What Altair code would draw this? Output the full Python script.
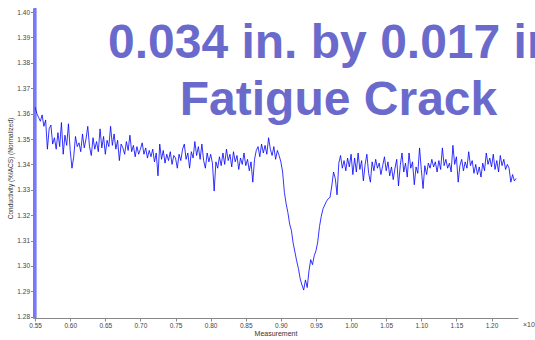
import altair as alt
import pandas as pd

# Scan positions: readings taken every 0.0025 (x10 units) starting at 0.55
X_START = 0.55
X_STEP = 0.0025

# Normalized conductivity readings, stretch by stretch along the scan
lead_in = [1.3625, 1.3600, 1.3585, 1.3570, 1.3595, 1.3550, 1.3575, 1.3460, 1.3540, 1.3555]
plateau_1 = [1.3480, 1.3505, 1.3460, 1.3525, 1.3470, 1.3565, 1.3440, 1.3515, 1.3475, 1.3560,
             1.3455, 1.3385, 1.3430, 1.3510, 1.3470, 1.3485, 1.3450, 1.3520, 1.3465, 1.3500]
plateau_2 = [1.3550, 1.3470, 1.3435, 1.3505, 1.3460, 1.3490, 1.3450, 1.3540, 1.3465, 1.3510,
             1.3440, 1.3495, 1.3470, 1.3550, 1.3475, 1.3520, 1.3460, 1.3495, 1.3415, 1.3480]
plateau_3 = [1.3465, 1.3440, 1.3490, 1.3455, 1.3515, 1.3450, 1.3475, 1.3430, 1.3470, 1.3440]
plateau_4 = [1.3460, 1.3485, 1.3440, 1.3465, 1.3425, 1.3455, 1.3430, 1.3460, 1.3410, 1.3445,
             1.3355, 1.3480, 1.3420, 1.3455, 1.3405, 1.3440, 1.3415, 1.3450, 1.3400, 1.3435]
plateau_5 = [1.3425, 1.3385, 1.3440, 1.3415, 1.3460, 1.3480, 1.3420, 1.3445, 1.3385, 1.3450,
             1.3425, 1.3490, 1.3435, 1.3470, 1.3420, 1.3480, 1.3415, 1.3385, 1.3445, 1.3410]
plateau_6 = [1.3440, 1.3405, 1.3295, 1.3410, 1.3385, 1.3430, 1.3395, 1.3445, 1.3400, 1.3460,
             1.3415, 1.3440, 1.3390, 1.3450, 1.3410, 1.3435, 1.3380, 1.3425, 1.3400, 1.3445,
             1.3395, 1.3420, 1.3375, 1.3410, 1.3330]
crack_edge = [1.3420, 1.3455, 1.3470, 1.3430, 1.3480, 1.3445, 1.3475, 1.3440, 1.3505, 1.3460,
              1.3435, 1.3470, 1.3420, 1.3455]
crack_dip = [1.3435, 1.3410, 1.3370, 1.3290, 1.3245, 1.3210, 1.3165, 1.3140, 1.3090, 1.3055,
             1.3020, 1.2990, 1.2950, 1.2925, 1.2905, 1.2945, 1.2915, 1.2980, 1.3025, 1.3005,
             1.3040, 1.3060, 1.3095, 1.3155, 1.3195, 1.3225, 1.3240, 1.3255, 1.3265, 1.3270,
             1.3315, 1.3370, 1.3345, 1.3280, 1.3405, 1.3435, 1.3385, 1.3415, 1.3375, 1.3425]
tail = [1.3390, 1.3440, 1.3360, 1.3425, 1.3370, 1.3445, 1.3380, 1.3415, 1.3335, 1.3400,
        1.3440, 1.3365, 1.3330, 1.3410, 1.3375, 1.3420, 1.3385, 1.3405, 1.3360, 1.3395,
        1.3430, 1.3375, 1.3410, 1.3355, 1.3390, 1.3340, 1.3385, 1.3420, 1.3315, 1.3395,
        1.3445, 1.3370, 1.3405, 1.3350, 1.3445, 1.3385, 1.3410, 1.3320, 1.3390, 1.3365,
        1.3465, 1.3380, 1.3305, 1.3395, 1.3360, 1.3405, 1.3385, 1.3420, 1.3390, 1.3410,
        1.3370, 1.3415, 1.3380, 1.3465, 1.3395, 1.3420, 1.3385, 1.3405, 1.3370, 1.3475,
        1.3400, 1.3430, 1.3330, 1.3395, 1.3420, 1.3375, 1.3410, 1.3385, 1.3450, 1.3395,
        1.3415, 1.3365, 1.3400, 1.3360, 1.3390, 1.3350, 1.3405, 1.3375, 1.3445, 1.3400,
        1.3425, 1.3390, 1.3440, 1.3380, 1.3415, 1.3370, 1.3435, 1.3395, 1.3420, 1.3380,
        1.3400, 1.3385, 1.3330, 1.3360, 1.3335, 1.3345]

readings = (lead_in + plateau_1 + plateau_2 + plateau_3 + plateau_4 + plateau_5
            + plateau_6 + crack_edge + crack_dip + tail)
positions = [round(X_START + X_STEP * i, 4) for i in range(len(readings))]

x_ticks = [0.55, 0.60, 0.65, 0.70, 0.75, 0.80, 0.85, 0.90, 0.95, 1.00, 1.05, 1.10, 1.15, 1.20]
y_ticks = [1.28, 1.29, 1.30, 1.31, 1.32, 1.33, 1.34, 1.35, 1.36, 1.37, 1.38, 1.39, 1.40]
cursor_at = [0.55]
title_lines = ["0.034 in. by 0.017 in.", "Fatigue Crack"]

W, H = 485, 310
FONT = "Liberation Sans"

df = pd.DataFrame({"Measurement": positions, "Conductivity": readings})

x_scale = alt.Scale(domain=[0.547, 1.2377], nice=False, zero=False)
y_scale = alt.Scale(domain=[1.2795, 1.4016], nice=False, zero=False)

x_axis = alt.Axis(values=x_ticks, format=".2f", grid=False, tickSize=3,
                  labelFontSize=6.5, labelFont=FONT, labelColor="#444", labelPadding=1,
                  labelOverlap=False, labelFlush=False,
                  domainColor="#888", tickColor="#888",
                  title="Measurement", titleFont=FONT, titleFontSize=7,
                  titleFontWeight="normal", titleColor="#333",
                  titleY=15, titleBaseline="middle")
y_axis = alt.Axis(values=y_ticks, format=".2f", grid=False, tickSize=2.5,
                  labelFontSize=6.5, labelFont=FONT, labelColor="#444", labelPadding=1,
                  labelOverlap=False, labelFlush=False,
                  domainColor="#888", tickColor="#888",
                  title="Conductivity (%IACS) (Normalized)", titleFont=FONT,
                  titleFontSize=6.5, titleFontWeight="normal", titleColor="#333",
                  titleX=-23, titleY=160, titleBaseline="middle", titleAngle=270)

# Scan trace
trace = alt.Chart(df).mark_line(color="#0000ff", strokeWidth=0.8, clip=True).encode(
    x=alt.X("Measurement:Q", scale=x_scale, axis=x_axis),
    y=alt.Y("Conductivity:Q", scale=y_scale, axis=y_axis),
)

# Start-of-scan cursor bar
cursor = alt.Chart(pd.DataFrame({"Measurement": cursor_at})).mark_rule(
    color="#7878ff", strokeWidth=3
).encode(
    x=alt.X("Measurement:Q", scale=x_scale, axis=x_axis),
    y=alt.value(0),
    y2=alt.value(H),
)

headline_1 = alt.Chart(pd.DataFrame({"t": [title_lines[0]]})).mark_text(
    font=FONT, fontSize=48, fontWeight="bold", color="#6a6acd",
    align="left", baseline="alphabetic"
).encode(text="t:N", x=alt.value(75), y=alt.value(50))

headline_2 = alt.Chart(pd.DataFrame({"t": [title_lines[1]]})).mark_text(
    font=FONT, fontSize=48, fontWeight="bold", color="#6a6acd",
    align="center", baseline="alphabetic"
).encode(text="t:N", x=alt.value(305.5), y=alt.value(107))

exponent = alt.Chart(pd.DataFrame({"t": ["\u00d710"]})).mark_text(
    font=FONT, fontSize=7, color="#444", align="left", baseline="middle"
).encode(text="t:N", x=alt.value(490), y=alt.value(317))

chart = alt.layer(cursor, trace, headline_1, headline_2, exponent).properties(
    width=W, height=H,
    autosize=alt.AutoSizeParams(type="none"),
    padding={"left": 33, "top": 8, "right": 17, "bottom": 22},
    background="white",
).configure_view(stroke=None)

chart.save("out.html", embed_options={"renderer": "svg", "actions": False})
